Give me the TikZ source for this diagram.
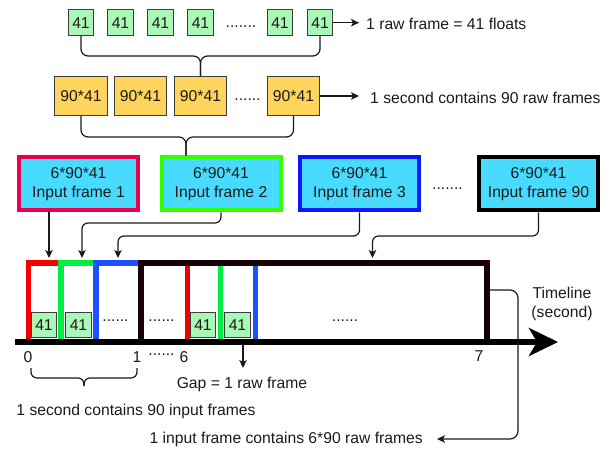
\documentclass[tikz,border=0pt]{standalone}
\usepackage{fontspec}
\setmainfont{Liberation Sans}
\usetikzlibrary{arrows.meta}

\definecolor{rawgreen}{HTML}{AAF8B8}
\definecolor{secorange}{HTML}{FFD45C}
\definecolor{framecyan}{HTML}{48DBFF}
\definecolor{edgepink}{HTML}{E8004F}
\definecolor{edgegreen}{HTML}{33FF00}
\definecolor{edgeblue}{HTML}{0A18FF}
\definecolor{tlred}{HTML}{F20000}
\definecolor{tlgreen}{HTML}{00EE44}
\definecolor{tlblue}{HTML}{1E50FF}
\definecolor{tlblack}{HTML}{190005}
\definecolor{ink}{HTML}{1A1A1A}

\begin{document}
\begin{tikzpicture}[x=1pt,y=-1pt,
  every node/.style={font=\fontsize{15.7}{18.5}\selectfont, text=ink},
  rawbox/.style={draw=ink!85, line width=1pt, fill=rawgreen,
    minimum width=25.5pt, minimum height=25.5pt, inner sep=0pt},
  secbox/.style={draw=ink!85, line width=1pt, fill=secorange,
    minimum width=52.5pt, minimum height=39pt, inner sep=0pt},
  inbox/.style={line width=4pt, fill=framecyan, minimum width=119pt,
    minimum height=53pt, inner sep=0pt, align=center},
  plain/.style={inner sep=0pt},
  conn/.style={draw=ink, line width=1.2pt},
  tip/.style={-{Stealth[length=8pt,width=7.5pt,inset=2pt]}},
  frameline/.style={line width=5.5pt, line cap=butt, line join=miter},
  slotline/.style={line width=5pt, line cap=butt},
]
\useasboundingbox (0,0) rectangle (611,449);

% ---- raw frames (41 floats each)
\node[rawbox] (g1) at (81,22.7) {41};
\node[rawbox] (g2) at (120.5,22.7) {41};
\node[rawbox] (g3) at (160.5,22.7) {41};
\node[rawbox] (g4) at (200.5,22.7) {41};
\node[plain] (gdots) at (241,27) {.......};
\node[rawbox] (g5) at (280,22.7) {41};
\node[rawbox] (g6) at (320,22.7) {41};
\node[plain, anchor=west] (rt1) at (366,24) {1 raw frame = 41 floats};
\draw[conn,tip,shorten >=7pt] (g6.east) -- (g6.east -| rt1.west);

% ---- one second of raw frames
\node[secbox] (o1) at (81,96) {90*41};
\node[secbox] (o2) at (140.5,96) {90*41};
\node[secbox] (o3) at (200.5,96) {90*41};
\node[plain] (odots) at (247.5,100) {......};
\node[secbox] (o4) at (293.5,96) {90*41};
\node[plain, anchor=west] (rt2) at (370,98) {1 second contains 90 raw frames};
\draw[conn,tip,shorten >=11pt] (o4.east) -- (o4.east -| rt2.west);

% brace: raw frames -> one second
\coordinate (bA) at (200.5,56);
\draw[conn, rounded corners=7pt] (g1.south) |- (bA) -- (o3.north);
\draw[conn, rounded corners=7pt] (g6.south) |- (bA) -- (o3.north);

% ---- input frames
\node[inbox, draw=edgepink]  (c1) at (78.5,184)  {6*90*41\\Input frame 1};
\node[inbox, draw=edgegreen] (c2) at (221,184)   {6*90*41\\Input frame 2};
\node[inbox, draw=edgeblue]  (c3) at (359.5,184) {6*90*41\\Input frame 3};
\node[plain] (cdots) at (447.5,189) {.......};
\node[inbox, draw=black]     (c4) at (538.5,184) {6*90*41\\Input frame 90};

% brace: seconds -> input frame
\coordinate (bB) at (186,137);
\draw[conn, rounded corners=7pt] (o1.south) |- (bB) -- (bB |- c2.north);
\draw[conn, rounded corners=7pt] (o4.south) |- (bB) -- (bB |- c2.north);

% ---- timeline
\draw[frameline, tlred]   (28.5,339) -- (28.5,263) -- (61,263);
\draw[frameline, tlgreen] (61,339) -- (61,263) -- (96,263);
\draw[frameline, tlblue]  (96,339) -- (96,263) -- (141,263);
\draw[frameline, tlblack] (141,339) -- (141,263) -- (487,263) -- (487,339);
\draw[slotline, tlred]   (187.5,266) -- (187.5,339);
\draw[slotline, tlgreen] (220.5,266) -- (220.5,339);
\draw[slotline, tlblue]  (255.5,266) -- (255.5,339);

\draw[line width=6pt, black,
  -{Stealth[length=29pt,width=28pt,inset=8pt]}] (15,342) -- (558,342);

\node[rawbox] (s1) at (44,325) {41};
\node[rawbox] (s2) at (78.5,325) {41};
\node[rawbox] (s3) at (203,325) {41};
\node[rawbox] (s4) at (237.5,325) {41};
\node[plain] (sd1) at (115.5,321) {......};
\node[plain] (sd2) at (161.5,321) {......};
\node[plain] (sd3) at (345,321) {......};

\node[plain, align=center] (tlabel) at (562,304) {Timeline\\(second)};

\node[plain] (n0) at (28,357) {0};
\node[plain] (n1) at (137,357) {1};
\node[plain] (nd) at (161.5,355) {......};
\node[plain] (n6) at (184,357) {6};
\node[plain] (n7) at (479,356) {7};

% input frames point to their slots on the timeline
\coordinate (t1) at (49,258);
\coordinate (t2) at (82,258);
\coordinate (t3) at (118,258);
\coordinate (t4) at (372.5,258);
\coordinate (k2) at (82,223);
\coordinate (k3) at (118,236);
\coordinate (k4) at (372.5,236);
\draw[conn,tip] (c1.south -| t1) -- (t1);
\draw[conn,tip,rounded corners=6pt] (c2.south) |- (k2) -- (t2);
\draw[conn,tip,rounded corners=6pt] (c3.south) |- (k3) -- (t3);
\draw[conn,tip,rounded corners=6pt] (c4.south) |- (k4) -- (t4);

% gap between frames
\node[plain] (gap) at (242,384) {Gap = 1 raw frame};
\coordinate (gapsrc) at (243,344);
\draw[conn,tip,shorten >=8.5pt] (gapsrc) -- (gapsrc |- gap.north);

% one second bracket
\coordinate (bC) at (84,378);
\draw[conn, rounded corners=6pt] (31,368) |- (bC) -- (84,386);
\draw[conn, rounded corners=6pt] (137,368) |- (bC) -- (84,386);
\node[plain] (sec) at (136,411) {1 second contains 90 input frames};

% one input frame span
\node[plain, anchor=east] (note) at (423,439) {1 input frame contains 6*90 raw frames};
\coordinate (rc) at (490,290);
\coordinate (rbend) at (518,439);
\draw[conn,tip,rounded corners=8pt,shorten >=14pt] (rc) -| (rbend) -- (note.east);
\end{tikzpicture}
\end{document}
